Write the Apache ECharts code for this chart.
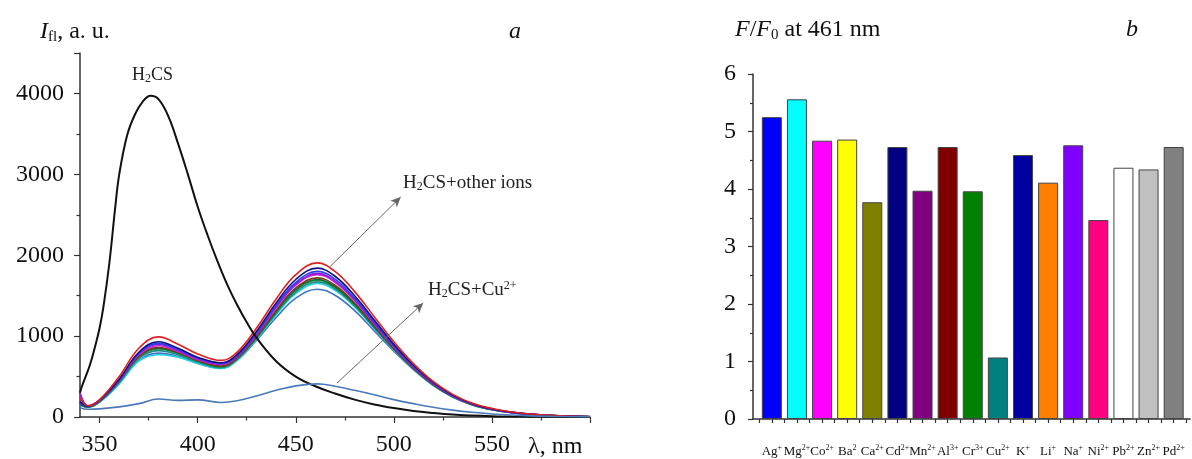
<!DOCTYPE html>
<html>
<head>
<meta charset="utf-8">
<script src="https://cdn.jsdelivr.net/npm/echarts@6/dist/echarts.min.js"></script>
<style>
  html, body { margin: 0; padding: 0; background: #fff; }
  #chart { width: 1192px; height: 459px; }
</style>
</head>
<body>
<div id="chart"></div>
<script>
// panel a: emission spectra
var waveX = [340,344,350,360,370,380,390,400,412,420,430,440,450,461,470,480,490,500,510,520,530,540,550,560,570,580,590,600];

var blackX = [340,341,345,348,350,352,355,358,360,364,368,372,376,380,385,390,395,400,405,410,415,420,425,430,440,450,460,470,480,490,500,510,520,530,540,550,560,580,600];
var blackY = [300,380,640,900,1100,1370,1910,2600,3000,3480,3740,3900,3970,3930,3720,3380,3000,2600,2250,1930,1640,1390,1170,980,690,500,380,290,215,155,110,75,50,30,18,10,5,2,0];

var cuCurve = [115,95,100,125,165,222,205,212,180,200,260,330,385,410,380,330,275,215,165,120,85,58,38,24,14,8,4,2];

var redCurve      = [230,140,215,500,850,990,900,780,700,800,1100,1460,1760,1905,1800,1550,1240,930,660,440,280,170,105,62,36,20,10,5];
var navyCurve     = [190,135,210,470,800,930,850,740,670,770,1060,1410,1700,1840,1740,1500,1200,900,640,430,270,165,100,60,35,19,10,5];
var blueCurve     = [170,130,205,460,790,910,835,730,665,760,1040,1380,1665,1800,1705,1470,1175,880,625,420,265,160,98,58,34,18,9,4];
var purpleCurve   = [300,140,210,455,780,900,825,720,655,750,1030,1365,1645,1775,1680,1450,1160,870,620,415,262,158,97,57,33,18,9,4];
var magentaCurve  = [290,135,205,450,770,880,810,710,650,745,1020,1350,1630,1760,1665,1440,1150,865,615,412,260,157,96,57,33,18,9,4];
var brownCurve    = [180,130,200,445,750,860,800,700,630,730,1000,1320,1595,1720,1630,1410,1130,850,605,405,255,155,95,56,32,17,9,4];
var dkgreenCurve  = [160,125,195,440,745,850,790,695,625,725,990,1305,1575,1700,1610,1395,1120,845,600,402,253,154,94,55,32,17,9,4];
var greenCurve    = [160,125,195,435,740,840,785,690,620,720,985,1295,1565,1690,1600,1388,1115,842,598,400,252,153,93,55,32,17,9,4];
var tealCurve     = [155,122,190,430,725,820,770,680,610,710,975,1280,1545,1670,1585,1375,1105,835,594,398,250,152,92,54,31,17,9,4];
var cyanCurve     = [150,120,185,410,690,770,740,660,600,700,965,1265,1525,1650,1565,1360,1095,830,590,395,248,150,91,54,31,17,9,4];
var steelCurve    = [150,120,185,415,700,790,750,665,605,700,950,1230,1470,1580,1505,1315,1065,815,585,392,246,149,90,53,31,16,8,4];

var waveTicks = [350,400,450,500,550,600];
var waveLabels = [350,400,450,500,550];
var waveMinor = [375,425,475,525,575];

// panel b: F/F0 at 461 nm
var ionNames   = ['Ag','Mg','Co','Ba','Ca','Cd','Mn','Al','Cr','Cu','K','Li','Na','Ni','Pb','Zn','Pd'];
var ionCharges = ['+','2+','2+','2','2+','2+','2+','3+','3+','2+','+','+','+','2+','2+','2+','2+'];
var ratioValues = [5.25,5.56,4.84,4.86,3.77,4.73,3.97,4.73,3.96,1.07,4.59,4.11,4.76,3.46,4.37,4.34,4.73];
var barColors = ['#0000ff','#00ffff','#ff00ff','#ffff00','#808000','#000080','#800080','#800000','#008000','#008080','#0000a0','#ff8000','#8000ff','#ff0080','#ffffff','#c0c0c0','#808080'];

var serif = 'Liberation Serif';

var curveList = [
	{ v: steelCurve, color: '#3d74c4' },
	{ v: cyanCurve, color: '#22d3e0' },
	{ v: tealCurve, color: '#1a8a8a' },
	{ v: greenCurve, color: '#2a9a4a' },
	{ v: dkgreenCurve, color: '#0e6b3a' },
	{ v: brownCurve, color: '#7a3a20' },
	{ v: magentaCurve, color: '#d020d0' },
	{ v: purpleCurve, color: '#8a20d8' },
	{ v: blueCurve, color: '#3040f0' },
	{ v: navyCurve, color: '#101080' },
	{ v: redCurve, color: '#e02020' }
];

function pairs(xs, ys) {
	var out = [];
	for (var i = 0; i < xs.length; i++) {
		out.push([xs[i], ys[i]]);
	}
	return out;
}

var series = [];
for (var c = 0; c < curveList.length; c++) {
	series.push({
		type: 'line',
		xAxisIndex: 0, yAxisIndex: 0,
		data: pairs(waveX, curveList[c].v),
		smooth: 0.4,
		symbol: 'none', silent: true,
		lineStyle: { color: curveList[c].color, width: 1.6 }
	});
}
series.push({
	type: 'line',
	xAxisIndex: 0, yAxisIndex: 0,
	data: pairs(blackX, blackY),
	smooth: 0.4,
	symbol: 'none', silent: true,
	lineStyle: { color: '#111', width: 2 }
});
series.push({
	type: 'line',
	xAxisIndex: 0, yAxisIndex: 0,
	data: pairs(waveX, cuCurve),
	smooth: 0.4,
	symbol: 'none', silent: true,
	lineStyle: { color: '#4a7ab8', width: 1.6 },
	markLine: {
		silent: true,
		symbol: ['none', 'arrow'],
		symbolSize: [7, 10],
		label: { show: false },
		lineStyle: { color: '#666', width: 1, type: 'solid' },
		data: [
			[{ coord: [467.5, 1860] }, { coord: [503.5, 2720] }],
			[{ coord: [471, 420] }, { coord: [515, 1410] }]
		]
	}
});

var barData = [];
for (var i = 0; i < ratioValues.length; i++) {
	barData.push({ value: [i + 1, ratioValues[i]], itemStyle: { color: barColors[i] } });
}
series.push({
	type: 'bar',
	xAxisIndex: 2, yAxisIndex: 1,
	data: barData,
	barWidth: 20,
	silent: true,
	itemStyle: { borderColor: '#444', borderWidth: 1 }
});

var halfTicks = [];
var intTicks = [];
for (var k = 0; k < ionNames.length; k++) {
	intTicks.push(k + 1);
	halfTicks.push(k + 0.5, k + 1);
}
halfTicks.push(ionNames.length + 0.5);

var axisLineStyle = { color: '#333', width: 1.5 };
var tickStyle = { color: '#333', width: 1.2 };

var option = {
	animation: false,
	grid: [
		{ left: 80, right: 602, top: 53, bottom: 42, outerBoundsMode: 'none', containLabel: false },
		{ left: 753, right: 2, top: 74, bottom: 40, outerBoundsMode: 'none', containLabel: false }
	],
	xAxis: [{
		gridIndex: 0, type: 'value', min: 340, max: 600,
		axisLine: { lineStyle: axisLineStyle },
		axisTick: { customValues: waveTicks, length: 6, lineStyle: tickStyle },
		axisLabel: { customValues: waveLabels, fontSize: 24, fontFamily: serif, color: '#111', margin: 16 },
		splitLine: { show: false }
	}, {
		gridIndex: 0, type: 'value', min: 340, max: 600, position: 'bottom',
		axisLine: { show: false },
		axisTick: { customValues: waveMinor, length: 3.5, lineStyle: tickStyle },
		axisLabel: { show: false },
		splitLine: { show: false }
	}, {
		gridIndex: 1, type: 'value', min: 0.25, max: 17.65,
		axisLine: { lineStyle: axisLineStyle },
		axisTick: { customValues: halfTicks, length: 4, lineStyle: tickStyle },
		axisLabel: {
			customValues: intTicks, margin: 25, interval: 0,
			formatter: function(v) {
				var n = Math.round(v) - 1;
				return '{b|' + ionNames[n] + '}{s|' + ionCharges[n] + '}';
			},
			rich: {
				b: { fontSize: 13, fontFamily: serif, color: '#111', lineHeight: 15 },
				s: { fontSize: 8, fontFamily: serif, color: '#111', lineHeight: 8, verticalAlign: 'top' }
			}
		},
		splitLine: { show: false }
	}],
	yAxis: [{
		gridIndex: 0, type: 'value', min: 0, max: 4500, interval: 1000,
		axisLine: { show: true, lineStyle: axisLineStyle },
		axisTick: { show: true, length: 6, lineStyle: tickStyle },
		minorTick: { show: true, splitNumber: 2, length: 3.5, lineStyle: tickStyle },
		axisLabel: {
			fontSize: 24, fontFamily: serif, color: '#111', margin: 16,
			showMaxLabel: false,
			formatter: function(v) { return v > 4000 ? '' : String(v); }
		},
		splitLine: { show: false }
	}, {
		gridIndex: 1, type: 'value', min: 0, max: 6, interval: 1,
		axisLine: { show: true, lineStyle: axisLineStyle },
		axisTick: { show: true, length: 5, lineStyle: tickStyle },
		minorTick: { show: true, splitNumber: 2, length: 3, lineStyle: tickStyle },
		axisLabel: { fontSize: 24, fontFamily: serif, color: '#111', margin: 17 },
		splitLine: { show: false }
	}],
	graphic: [{
		type: 'text', x: 40, y: 32,
		style: {
			text: '{i|I}{sub|fl}{n|, a. u.}', verticalAlign: 'middle',
			rich: {
				i: { fontSize: 24, fontStyle: 'italic', fontFamily: serif, fill: '#111', lineHeight: 26 },
				sub: { fontSize: 15, fontFamily: serif, fill: '#111', lineHeight: 12, verticalAlign: 'bottom' },
				n: { fontSize: 24, fontFamily: serif, fill: '#111', lineHeight: 26 }
			}
		}
	}, {
		type: 'text', x: 515, y: 32,
		style: { text: 'a', font: 'italic 24px "Liberation Serif"', fill: '#111', align: 'center', verticalAlign: 'middle' }
	}, {
		type: 'text', x: 735, y: 30,
		style: {
			text: '{i|F}{n|/}{i|F}{sub|0}{n| at 461 nm}', verticalAlign: 'middle',
			rich: {
				i: { fontSize: 24, fontStyle: 'italic', fontFamily: serif, fill: '#111', lineHeight: 26 },
				sub: { fontSize: 15, fontFamily: serif, fill: '#111', lineHeight: 12, verticalAlign: 'bottom' },
				n: { fontSize: 24, fontFamily: serif, fill: '#111', lineHeight: 26 }
			}
		}
	}, {
		type: 'text', x: 1132, y: 30,
		style: { text: 'b', font: 'italic 24px "Liberation Serif"', fill: '#111', align: 'center', verticalAlign: 'middle' }
	}, {
		type: 'text', x: 528, y: 447,
		style: { text: 'λ, nm', font: '24px "Liberation Serif"', fill: '#111', verticalAlign: 'middle' }
	}, {
		type: 'text', x: 132, y: 75,
		style: {
			text: '{n|H}{sub|2}{n|CS}', verticalAlign: 'middle',
			rich: {
				n: { fontSize: 18, fontFamily: serif, fill: '#222', lineHeight: 20 },
				sub: { fontSize: 12, fontFamily: serif, fill: '#222', lineHeight: 10, verticalAlign: 'bottom' }
			}
		}
	}, {
		type: 'text', x: 403, y: 183,
		style: {
			text: '{n|H}{sub|2}{n|CS+other ions}', verticalAlign: 'middle',
			rich: {
				n: { fontSize: 19, fontFamily: serif, fill: '#222', lineHeight: 20 },
				sub: { fontSize: 12, fontFamily: serif, fill: '#222', lineHeight: 10, verticalAlign: 'bottom' }
			}
		}
	}, {
		type: 'text', x: 428, y: 290,
		style: {
			text: '{n|H}{sub|2}{n|CS+Cu}{sup|2+}', verticalAlign: 'middle',
			rich: {
				n: { fontSize: 19, fontFamily: serif, fill: '#222', lineHeight: 20 },
				sub: { fontSize: 12, fontFamily: serif, fill: '#222', lineHeight: 10, verticalAlign: 'bottom' },
				sup: { fontSize: 12, fontFamily: serif, fill: '#222', lineHeight: 10, verticalAlign: 'top' }
			}
		}
	}],
	series: series
};

var chart = echarts.init(document.getElementById('chart'));
chart.setOption(option);
</script>
</body>
</html>
